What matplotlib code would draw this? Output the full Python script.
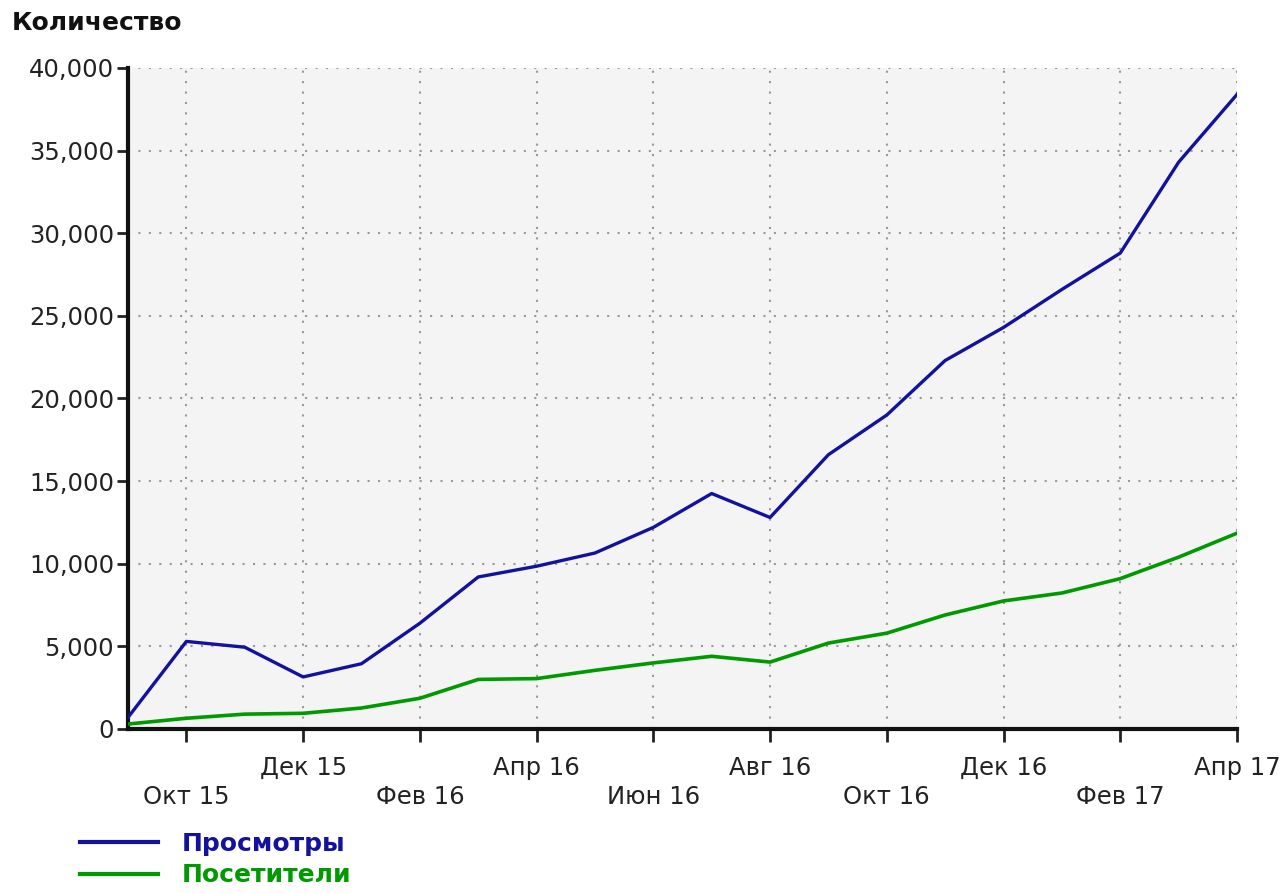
import matplotlib
matplotlib.use("Agg")
import matplotlib.pyplot as plt
from matplotlib.ticker import FuncFormatter, FixedLocator

plt.rcParams['font.family'] = ['DejaVu Sans']

# ---- data ----
months = ["Сен 15", "Окт 15", "Ноя 15", "Дек 15", "Янв 16", "Фев 16", "Мар 16", "Апр 16",
          "Май 16", "Июн 16", "Июл 16", "Авг 16", "Сен 16", "Окт 16", "Ноя 16", "Дек 16",
          "Янв 17", "Фев 17", "Мар 17", "Апр 17"]
views = [700, 5300, 4950, 3150, 3950, 6400, 9200, 9850, 10650, 12200, 14250, 12800,
         16600, 19000, 22300, 24300, 26600, 28800, 34300, 38400]
visitors = [300, 650, 900, 950, 1270, 1860, 3000, 3050, 3550, 4000, 4400, 4050,
            5200, 5800, 6900, 7750, 8230, 9100, 10400, 11850]
series_names = ["Просмотры", "Посетители"]
y_title = "Количество"
y_ticks = [0, 5000, 10000, 15000, 20000, 25000, 30000, 35000, 40000]

blue = "#12129e"
green = "#009a00"

W, H = 1283, 894
fig = plt.figure(figsize=(W / 100, H / 100), dpi=100)
ax = fig.add_axes([128 / W, 1 - 729 / H, (1237 - 128) / W, (729 - 68) / H])
ax.set_facecolor("#f4f4f4")

x = list(range(len(months)))
l1, = ax.plot(x, views, color=blue, lw=2.4, solid_joinstyle='round', zorder=3)
l2, = ax.plot(x, visitors, color=green, lw=2.6, solid_joinstyle='round', zorder=3)

ax.set_xlim(0, len(months) - 1)
ax.set_ylim(0, 40000)

# x ticks: every 2 months, alternating label rows
upper = [i for i in range(1, len(months)) if i % 4 == 3]
lower = [i for i in range(1, len(months)) if i % 4 == 1]
ax.xaxis.set_major_locator(FixedLocator(upper))
ax.xaxis.set_minor_locator(FixedLocator(lower))
ax.set_xticklabels([months[i] for i in upper])
ax.set_xticklabels([months[i] for i in lower], minor=True)
ax.tick_params(axis='x', which='major', length=9, width=2, pad=10.5, labelsize=17.5, colors='#222222')
ax.tick_params(axis='x', which='minor', length=9, width=2, pad=31, labelsize=17.5, colors='#222222')

ax.set_yticks(y_ticks)
ax.yaxis.set_major_formatter(FuncFormatter(lambda v, p: f"{int(v):,}"))
ax.tick_params(axis='y', length=8, width=2, pad=2, labelsize=17.5, colors='#222222')

ax.grid(True, which='both', axis='x', color='#999999', lw=1.5, linestyle=(0, (1, 4)))
ax.grid(True, which='major', axis='y', color='#999999', lw=1.5, linestyle=(0, (1, 4)))
ax.set_axisbelow(True)

for s in ['top', 'right']:
    ax.spines[s].set_visible(False)
for s in ['left', 'bottom']:
    ax.spines[s].set_linewidth(3)
    ax.spines[s].set_color('#111111')

fig.text(12 / W, 1 - 11 / H, y_title, fontsize=18, fontweight='bold', ha='left', va='top', color='#111111')

leg = fig.legend([l1, l2], series_names, loc='upper left',
                 bbox_to_anchor=(80 / W, 1 - 832 / H), frameon=False,
                 prop={'size': 18, 'weight': 'bold'}, handlelength=3.1,
                 handletextpad=0.95, labelspacing=0.3, borderpad=0, borderaxespad=0,
                 labelcolor='linecolor')
for h in leg.legend_handles:
    h.set_linewidth(3)

fig.savefig("out.png", dpi=100)
